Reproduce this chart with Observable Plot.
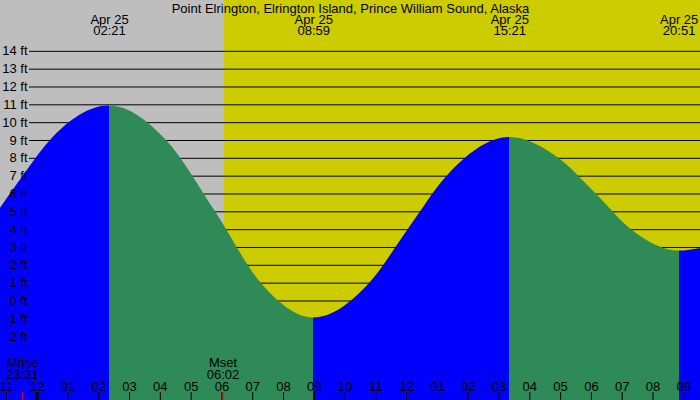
<!DOCTYPE html>
<html><head><meta charset="utf-8">
<script src="https://cdn.jsdelivr.net/npm/d3@7"></script>
<script src="https://cdn.jsdelivr.net/npm/@observablehq/plot@0.6"></script>
<style>html,body{margin:0;padding:0;background:#fff}svg{display:block}</style>
</head><body><div id="chart"></div>
<script>
// ---- data ----
const title = "Point Elrington, Elrington Island, Prince William Sound, Alaska";
const dateLabel = "Apr 25";

// tide height readings (hours after midnight Apr 25, feet)
const curveHours = [-1.192, -0.455, 0.432, 2.35,
  4.199, 5.791, 7.275, 8.983,
  10.802, 12.049, 13.316, 15.35,
  16.941, 18.155, 19.302, 20.85, 21.544];
const curveFeet = [5.2, 7, 9, 10.93,
  9, 5, 1, -0.95,
  1, 4, 7, 9.17,
  8, 6, 4, 2.8, 2.95];

// high / low tide events
const extremeTimes = ["02:21", "08:59", "15:21", "20:51"];
const extremeKinds = ["high", "low", "high", "low"];

// moon events
const moonNames = ["Mrise", "Mset"];
const moonTimes = ["23:31", "06:02"];
const moonDayOffsets = [-1, 0];

// sunrise (night -> day boundary)
const sunriseTime = "06:05";

// axes
const gridFeet = [14, 13, 12, 11, 10, 9, 8, 7, 6, 5, 4, 3, 2, 1, 0, -1, -2];
const hourTicks = [-1, 0, 1, 2, 3, 4, 5, 6, 7, 8, 9, 10, 11, 12, 13, 14, 15, 16, 17, 18, 19, 20, 21];
const hourLabels = ["11", "12", "01", "02", "03", "04", "05", "06", "07", "08", "09", "10",
  "11", "12", "01", "02", "03", "04", "05", "06", "07", "08", "09"];

// visible window
const viewStart = -1.192, viewEnd = 21.544;
const feetMin = -5.58, feetMax = 16.85;

// ---- build ----
const W = 700, H = 400;
const toHours = s => { const [h, m] = s.split(":").map(Number); return h + m / 60; };
const tide = curveHours.map((h, i) => ({h, ft: curveFeet[i]}));
const extremes = extremeTimes.map((t, i) => ({time: t, h: toHours(t), kind: extremeKinds[i]}));
const moon = moonNames.map((n, i) => ({name: n, time: moonTimes[i], h: toHours(moonTimes[i]) + 24 * moonDayOffsets[i]}));
const sunrise = toHours(sunriseTime);

// rising / falling intervals
const bounds = [viewStart, ...extremes.map(d => d.h), viewEnd];
const rising = [], falling = [];
for (let i = 0; i < bounds.length - 1; i++) {
  const next = extremes[i];
  const isRising = next ? next.kind === "high" : extremes[extremes.length - 1].kind === "low";
  (isRising ? rising : falling).push([bounds[i], bounds[i + 1]]);
}

const GRAY = "#bebebe", YELLOW = "#cccc00", BLUE = "#0000ff", GREEN = "#2e8b57";

const plot = Plot.plot({
  width: W, height: H, margin: 0,
  x: {domain: [viewStart, viewEnd], axis: null},
  y: {domain: [feetMin, feetMax], axis: null},
  style: {fontFamily: "'Liberation Sans', Arial, sans-serif", fontSize: "13px", background: "transparent", color: "black"},
  marks: [
    Plot.rect([{a: viewStart, b: sunrise}], {x1: "a", x2: "b", fill: GRAY}),
    Plot.rect([{a: sunrise, b: viewEnd}], {x1: "a", x2: "b", fill: YELLOW}),
    Plot.ruleY(gridFeet, {y: d => d, stroke: "black", strokeWidth: 1, insetLeft: 29}),
    Plot.areaY(tide, {x: "h", y1: feetMin, y2: "ft", fill: BLUE, curve: "monotone-x"}),
    Plot.areaY(tide, {x: "h", y1: feetMin, y2: "ft", fill: GREEN, curve: "monotone-x"}),
    Plot.text(gridFeet, {y: d => d, text: d => `${d} ft`, frameAnchor: "left", textAnchor: "end", dx: 27, fill: "black"}),
    Plot.text([title], {text: d => d, frameAnchor: "top", lineAnchor: "top", dy: 2.8, fill: "black"}),
    Plot.text(extremes, {x: "h", text: d => `${dateLabel}\n${d.time}`, frameAnchor: "top", lineAnchor: "top", lineHeight: 0.9, dy: 14.8, fill: "black"}),
    Plot.ruleX(hourTicks, {x: d => d, stroke: "black", strokeWidth: 1, insetTop: 392}),
    Plot.ruleX([0], {x: d => d, stroke: "black", strokeWidth: 3, insetTop: 392}),
    Plot.ruleX(moon, {x: "h", stroke: "red", strokeWidth: 1, insetTop: 392}),
    Plot.text(hourTicks, {x: d => d, text: (d, i) => hourLabels[i], frameAnchor: "bottom", lineAnchor: "bottom", dy: -10, fill: "black"}),
    Plot.text(moon, {x: "h", text: d => `${d.name}\n${d.time}`, frameAnchor: "bottom", lineAnchor: "bottom", lineHeight: 0.9, dy: -22, fill: "black"})
  ]
});

// clip the two tide areas to their rising / falling intervals
const xs = plot.scale("x");
const svg = d3.select(plot);
const defs = svg.insert("defs", ":first-child");
function addClip(id, intervals) {
  const cp = defs.append("clipPath").attr("id", id);
  intervals.forEach(([a, b]) => {
    const x0 = Math.round(xs.apply(a)), x1 = Math.round(xs.apply(b));
    cp.append("rect").attr("x", x0).attr("y", 0).attr("width", x1 - x0).attr("height", H);
  });
}
addClip("clip-rising", rising);
addClip("clip-falling", falling);
const areas = svg.selectAll('g[aria-label="area"]').nodes();
d3.select(areas[0]).attr("clip-path", "url(#clip-rising)");
d3.select(areas[1]).attr("clip-path", "url(#clip-falling)");

document.getElementById("chart").appendChild(plot);
</script>
</body></html>
